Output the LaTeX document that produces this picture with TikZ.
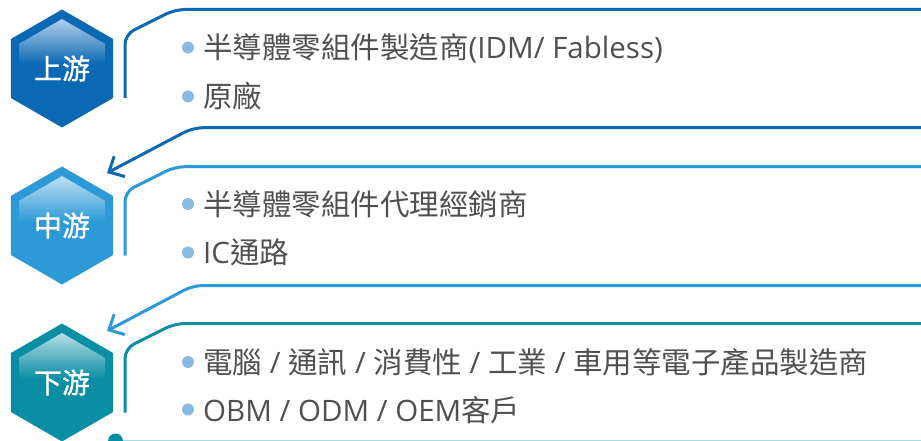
\documentclass[tikz,border=0pt]{standalone}
\usepackage{fontspec}
\setmainfont{Open Sans}
\newfontfamily\cjk{Noto Sans CJK TC}
\newfontfamily\cjkb[FakeBold=1]{Noto Sans CJK TC}
\usetikzlibrary{shapes.geometric,arrows.meta}
\definecolor{cA}{HTML}{0B68B3}
\definecolor{cB}{HTML}{2C9AD7}
\definecolor{cC}{HTML}{0A8EA4}
\definecolor{lA}{HTML}{B0CFEB}
\definecolor{lB}{HTML}{BFE0F4}
\definecolor{lC}{HTML}{B8DDE5}
\definecolor{txt}{HTML}{505050}
\definecolor{bul}{HTML}{8AB9E2}
\definecolor{cyanl}{HTML}{A6DCE4}
\pgfdeclareverticalshading{hexA}{100bp}{color(0bp)=(cA); color(52bp)=(cA); color(75bp)=(lA); color(100bp)=(lA)}
\pgfdeclareverticalshading{hexB}{100bp}{color(0bp)=(cB); color(52bp)=(cB); color(75bp)=(lB); color(100bp)=(lB)}
\pgfdeclareverticalshading{hexC}{100bp}{color(0bp)=(cC); color(52bp)=(cC); color(75bp)=(lC); color(100bp)=(lC)}
\begin{document}
\begin{tikzpicture}[x=1pt,y=-1pt,
  hexo/.style={regular polygon,regular polygon sides=6,regular polygon rotate=30,minimum size=118pt,inner sep=0pt,outer sep=0pt,fill=#1},
  hexi/.style={regular polygon,regular polygon sides=6,regular polygon rotate=30,minimum size=99pt,inner sep=0pt,outer sep=0pt,shading=#1},
  hexlabel/.style={text=white,font=\cjkb\fontsize{28}{30}\selectfont,inner sep=0pt},
  boxline/.style={draw=#1,line width=3pt,rounded corners=10pt},
  arrline/.style={draw=#1,line width=3pt,rounded corners=10pt,-{Straight Barb[length=12pt,width=23pt,line width=3pt]}},
  bullet/.style={fill=bul},
  itemtext/.style={anchor=base west,inner sep=0pt,text=txt,font=\fontsize{29.5}{34}\selectfont}]
\useasboundingbox (0,0) rectangle (921,441);
\begin{scope}
\clip (0,0) rectangle (921,441);
% hexagons
\node[hexo=cA] (h1) at (62,68.5) {};
\node[hexi=hexA] (h1i) at (62,68.5) {};
\node[hexlabel] (t1) at (62,68.5) {上游};
\node[hexo=cB] (h2) at (62,225.5) {};
\node[hexi=hexB] (h2i) at (62,225.5) {};
\node[hexlabel] (t2) at (62,225.5) {中游};
\node[hexo=cC] (h3) at (62,382.5) {};
\node[hexi=hexC] (h3i) at (62,382.5) {};
\node[hexlabel] (t3) at (62,382.5) {下游};
% box lines
\coordinate (b1a) at (930,9.5); \coordinate (b1b) at (175,9.5); \coordinate (b1c) at (125,34.5); \coordinate (b1d) at (125,98);
\draw[boxline=cA] (b1a) -- (b1b) -- (b1c) -- (b1d);
\coordinate (b2a) at (930,166.7); \coordinate (b2b) at (175,166.7); \coordinate (b2c) at (125,191.7); \coordinate (b2d) at (125,255.5);
\draw[boxline=cB] (b2a) -- (b2b) -- (b2c) -- (b2d);
\coordinate (b3a) at (930,323.5); \coordinate (b3b) at (175,323.5); \coordinate (b3c) at (125,348.5); \coordinate (b3d) at (125,412.5);
\draw[boxline=cC] (b3a) -- (b3b) -- (b3c) -- (b3d);
% arrows
\coordinate (a1a) at (930,127.7); \coordinate (a1b) at (193,127.7); \coordinate (a1c) at (107,173);
\draw[arrline=cA] (a1a) -- (a1b) -- (a1c);
\coordinate (a2a) at (930,285.5); \coordinate (a2b) at (193,285.5); \coordinate (a2c) at (107,331);
\draw[arrline=cB] (a2a) -- (a2b) -- (a2c);
% bottom line
\coordinate (ba) at (116,440.5); \coordinate (bb) at (930,440.5);
\draw[cyanl,line width=2pt] (ba) -- (bb);
\fill[cC] (115.5,441) circle (7.5pt);
% bullets and text
\fill[bullet] (188,47.5) circle (6pt);
\node[itemtext] (i11) at (203,58.5) {{\cjk 半導體零組件製造商}(IDM/ Fabless)};
\fill[bullet] (188,96.5) circle (6pt);
\node[itemtext] (i12) at (203,107.5) {\cjk 原廠};
\fill[bullet] (188,204) circle (6pt);
\node[itemtext] (i21) at (203,215.5) {\cjk 半導體零組件代理經銷商};
\fill[bullet] (188,252.5) circle (6pt);
\node[itemtext] (i22) at (203,263.5) {IC{\cjk 通路}};
\fill[bullet] (188,362) circle (6pt);
\node[itemtext] (i31) at (203,373.5) {{\cjk 電腦} / {\cjk 通訊} / {\cjk 消費性} / {\cjk 工業} / {\cjk 車用等電子產品製造商}};
\fill[bullet] (188,409.5) circle (6pt);
\node[itemtext] (i32) at (203,421) {OBM / ODM / OEM{\cjk 客戶}};
\end{scope}
\end{tikzpicture}
\end{document}
